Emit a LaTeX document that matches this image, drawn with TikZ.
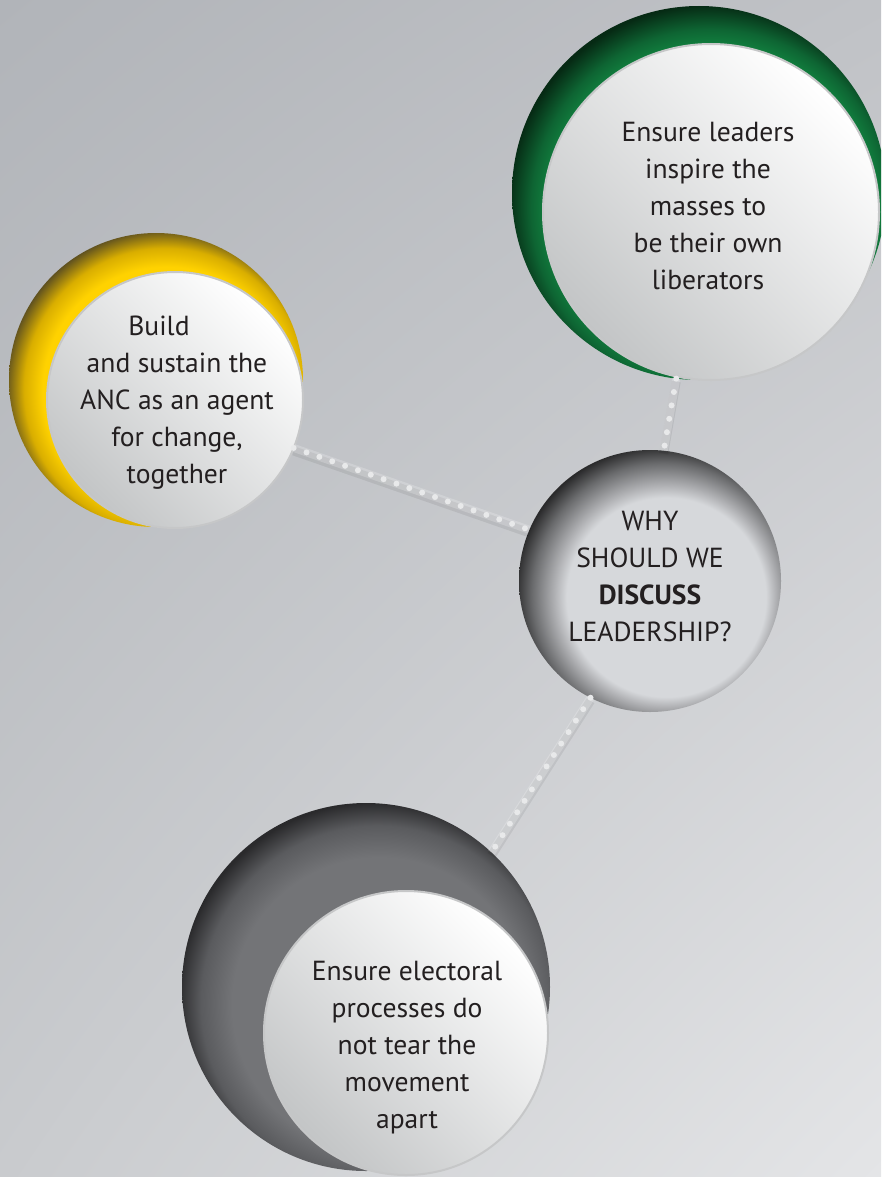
\documentclass[tikz,border=0pt]{standalone}
\usepackage{fontspec}
\setmainfont{PT Sans}
\usetikzlibrary{shapes,shadings}

\definecolor{bgtl}{HTML}{B1B4B9}
\definecolor{bgtr}{HTML}{C0C2C6}
\definecolor{bgbl}{HTML}{C9CBCE}
\definecolor{bgbr}{HTML}{E4E5E7}
\definecolor{grbright}{HTML}{138C44}
\definecolor{grmid}{HTML}{0E6533}
\definecolor{grdark}{HTML}{062A14}
\definecolor{yebright}{HTML}{FFD200}
\definecolor{yemid}{HTML}{D9AE00}
\definecolor{yedark}{HTML}{5E5020}
\definecolor{dkbright}{HTML}{737477}
\definecolor{dkmid}{HTML}{5A5B5E}
\definecolor{dkdark}{HTML}{2A2A2C}
\definecolor{balllight}{HTML}{D6D8DB}
\definecolor{ballmid}{HTML}{B2B3B6}
\definecolor{ballrim}{HTML}{6A6B6D}
\definecolor{balldark}{HTML}{2A2A2B}
\definecolor{discgray}{HTML}{C3C5C6}
\definecolor{discedge}{HTML}{C6C7C8}
\definecolor{dotwhite}{HTML}{E8E9EA}
\definecolor{txt}{HTML}{231F20}

\pgfdeclareradialshading{greenring}{\pgfpoint{3bp}{-4bp}}{color(0bp)=(grbright); color(21bp)=(grbright); color(24bp)=(grmid); color(27bp)=(grdark); color(50bp)=(grdark)}
\pgfdeclareradialshading{yellowring}{\pgfpoint{3bp}{-3bp}}{color(0bp)=(yebright); color(21bp)=(yebright); color(24bp)=(yemid); color(27bp)=(yedark); color(50bp)=(yedark)}
\pgfdeclareradialshading{darkring}{\pgfpoint{3bp}{-4bp}}{color(0bp)=(dkbright); color(20bp)=(dkbright); color(24bp)=(dkmid); color(27bp)=(dkdark); color(50bp)=(dkdark)}
\pgfdeclareradialshading{whyball}{\pgfpoint{5bp}{-5bp}}{color(0bp)=(balllight); color(19bp)=(balllight); color(21bp)=(ballmid); color(25bp)=(ballrim); color(28bp)=(balldark); color(50bp)=(balldark)}

\tikzstyle{ring}=[circle,inner sep=0pt,outer sep=0pt,shade]
\tikzstyle{disc}=[circle,inner sep=0pt,outer sep=0pt,top color=white,bottom color=discgray,shading angle=-45,draw=discedge,line width=2pt]
\tikzstyle{blurb}=[align=center,text=txt,font=\fontsize{27.6}{37}\selectfont]
\tikzstyle{dotrow}=[dotwhite,line width=6pt,line cap=round,dash pattern=on 0pt off 13.6pt]
\tikzstyle{dotshadow}=[black,opacity=.07,line width=9pt]

\begin{document}
\begin{tikzpicture}[x=1pt,y=-1pt]
	\useasboundingbox (0,0) rectangle (881,1177);
	\clip (0,0) rectangle (881,1177);
	\shade[upper left=bgtl,upper right=bgtr,lower left=bgbl,lower right=bgbr] (0,0) rectangle (881,1177);

	% outer rings and inner discs
	\node[ring,shading=greenring,minimum size=374pt] (greenring) at (699,193) {};
	\node[disc,minimum size=336pt] (leaders) at (711,212) {};
	\node[ring,shading=yellowring,minimum size=294pt] (yellowring) at (156,380) {};
	\node[disc,minimum size=256pt] (build) at (175,400) {};
	\node[ring,shading=darkring,minimum size=368pt] (darkring) at (366,987) {};
	\node[disc,minimum size=284pt] (electoral) at (406,1033) {};
	\node[ring,shading=whyball,minimum size=262pt] (why) at (650,581) {};

	% dotted links
	\foreach \a/\b in {build.-22/why.157,greenring.263/why.84,why.243/darkring.47}{
		\draw[dotshadow,transform canvas={yshift=-3pt}] (\a) -- (\b);
		\draw[white,opacity=.2,line width=8pt] (\a) -- (\b);
		\draw[dotrow] (\a) -- (\b);
	}

	\node[blurb] at ([xshift=-3pt,yshift=6pt]leaders.center) {Ensure leaders\\inspire the\\masses to\\be their own\\liberators};
	\node[blurb] at ([xshift=2pt,yshift=-3pt]build.center) {Build\hspace*{36pt}\\and sustain the\\ANC as an agent\\for change,\\together};
	\node[blurb] at ([yshift=5pt]why.center) {WHY\\SHOULD WE\\\textbf{DISCUSS}\\LEADERSHIP?};
	\node[blurb] at ([xshift=1pt,yshift=-15pt]electoral.center) {Ensure electoral\\processes do\\not tear the\\movement\\apart};
\end{tikzpicture}
\end{document}
